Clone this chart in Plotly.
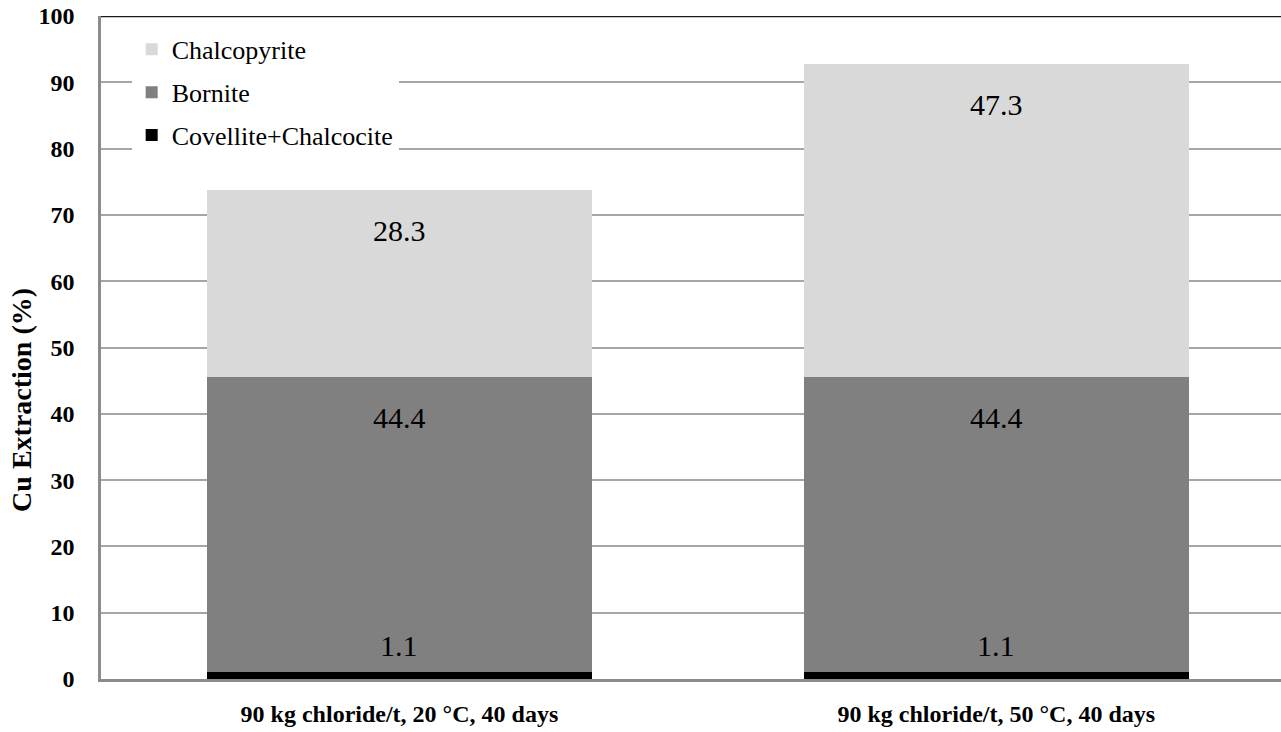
import plotly.graph_objects as go

categories = ["90 kg chloride/t, 20 °C, 40 days", "90 kg chloride/t, 50 °C, 40 days"]
covellite_chalcocite = [1.1, 1.1]
bornite = [44.4, 44.4]
chalcopyrite = [28.3, 47.3]
series_names = ["Covellite+Chalcocite", "Bornite", "Chalcopyrite"]
series_values = [covellite_chalcocite, bornite, chalcopyrite]
series_colors = ["#000000", "#808080", "#d9d9d9"]
y_ticks = list(range(0, 101, 10))
y_title = "Cu Extraction (%)"

FONT = "Liberation Serif, serif"

fig = go.Figure()
n = len(series_names)
for k, (name, vals, col) in enumerate(zip(series_names, series_values, series_colors)):
    fig.add_trace(go.Bar(
        x=categories, y=vals, name=name, marker=dict(color=col, line=dict(width=0)),
        width=0.645, legendgroup=name, legendrank=n - k,
    ))

# value labels
annotations = []
base = [0.0, 0.0]
for name, vals in zip(series_names, series_values):
    for i, v in enumerate(vals):
        top = base[i] + v
        if v < 5:
            y, ys, ya = top, 8, "bottom"
        else:
            y, ys, ya = top, -22, "top"
        annotations.append(dict(
            x=categories[i], y=y, xref="x", yref="y", text=f"{v:.1f}", showarrow=False,
            yshift=ys, yanchor=ya, font=dict(family=FONT, size=30, color="#000000"),
        ))
        base[i] = top

# y axis title as rotated annotation
annotations.append(dict(
    text=y_title, xref="paper", yref="paper", x=0, y=0.421, xanchor="center", yanchor="middle",
    xshift=-79, textangle=-90, showarrow=False,
    font=dict(family=FONT, size=28, color="#000000", weight="bold"),
))

fig.update_layout(
    width=1281, height=732,
    margin=dict(l=101, r=0, t=16, b=53, autoexpand=False),
    paper_bgcolor="white", plot_bgcolor="white",
    barmode="stack",
    font=dict(family=FONT, color="#000000"),
    annotations=annotations,
    showlegend=True,
    legend=dict(
        x=0.026, y=0.985, xanchor="left", yanchor="top",
        bgcolor="white", traceorder="grouped", tracegroupgap=6,
        font=dict(family=FONT, size=26, color="#000000"),
        itemwidth=30,
    ),
    shapes=[dict(type="line", xref="paper", yref="y", x0=0, x1=1, y0=100, y1=100,
                 line=dict(color="#1a1a1a", width=2.5))],
)
fig.update_xaxes(
    type="category", range=[-0.5, 1.477],
    showline=True, linecolor="#8c8c8c", linewidth=2.5,
    showgrid=False, ticks="", ticklabelstandoff=11, automargin=False,
    tickfont=dict(family=FONT, size=24, color="#000000", weight="bold"),
)
fig.update_yaxes(
    range=[0, 100], tickvals=y_ticks, showgrid=True, gridcolor="#a6a6a6", gridwidth=1.5,
    showline=True, linecolor="#8c8c8c", linewidth=2.5, zeroline=False,
    ticks="", ticklabelstandoff=19,
    tickfont=dict(family=FONT, size=24, color="#000000", weight="bold"),
    automargin=False,
)

fig.write_html("out.html", config={"displayModeBar": False},
               post_script="document.body.style.margin='0';document.body.style.padding='0';")
